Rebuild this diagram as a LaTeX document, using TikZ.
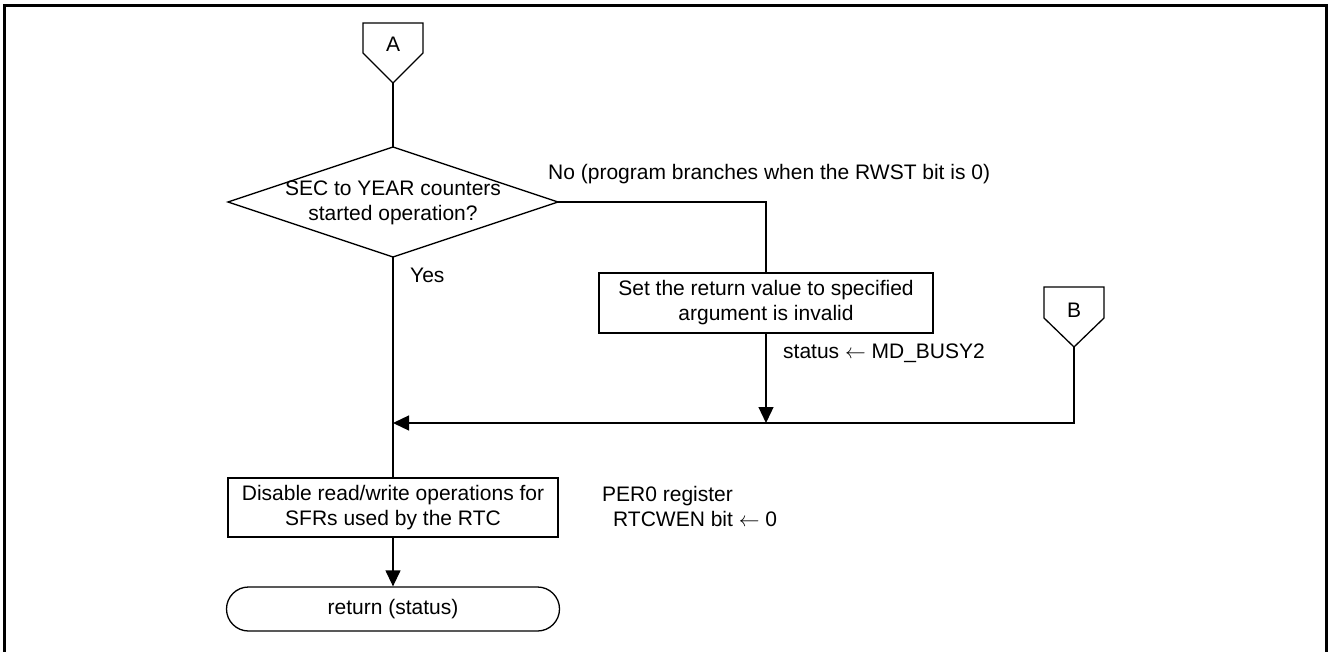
\documentclass[tikz,border=0pt]{standalone}
\usepackage{fontspec}
\setmainfont{Liberation Sans}
\usetikzlibrary{arrows.meta,shapes.misc}
\begin{document}
\begin{tikzpicture}[x=1pt,y=-1pt,
  every node/.style={font=\fontsize{21}{25}\selectfont},
  ln/.style={line width=1.3pt},
  arr/.style={ln,-{Triangle[length=16pt,width=15pt]}},
  procbox/.style={draw,ln,rectangle,inner sep=0pt,align=center},
  termbox/.style={draw,ln,rounded rectangle,inner sep=0pt,align=center},
  lbl/.style={inner sep=0pt,anchor=base west,align=left}]
\useasboundingbox (0,0) rectangle (1330,652);
\draw[line width=3pt] (4.5,660) -- (4.5,5.5) -- (1326.5,5.5) -- (1326.5,660);
% connector A
\draw[ln] (363,23) -- (423,23) -- (423,53) -- (393,83) -- (363,53) -- cycle;
\node (Alab) at (393,44.5) {A};
\coordinate (Atip) at (393,83);
% decision
\coordinate (dT) at (393,147);
\coordinate (dL) at (228,202);
\coordinate (dR) at (558,202);
\coordinate (dB) at (393,257);
\draw[ln] (dT) -- (dR) -- (dB) -- (dL) -- cycle;
\node[align=center,inner sep=0pt] (dec) at (393,203) {SEC to YEAR counters\\started operation?};
% process boxes
\node[procbox,minimum width=334pt,minimum height=60pt] (box1) at (766,303) {Set the return value to specified\\argument is invalid};
\node[procbox,minimum width=330pt,minimum height=59pt] (box2) at (393,507.5) {Disable read/write operations for\\SFRs used by the RTC};
\node[termbox,minimum width=333pt,minimum height=44pt] (term) at (393,609) {return (status)};
% connector B
\draw[ln] (1044,287) -- (1104,287) -- (1104,318) -- (1074,347) -- (1044,318) -- cycle;
\node (Blab) at (1074,310) {B};
\coordinate (Btip) at (1074,347);
\coordinate (join1) at (766,423);
\coordinate (join2) at (393,423);
% connectors
\draw[ln] (Atip) -- (dT);
\draw[ln] (dR) -| (box1.north);
\draw[arr] (box1.south) -- (join1);
\draw[arr] (Btip) |- (join2);
\draw[ln] (dB) -- (box2.north);
\draw[arr] (box2.south) -- (term.north);
% labels
\node[lbl] (no) at (548,180) {No (program branches when the RWST bit is 0)};
\node[lbl] (yes) at (410,283) {Yes};
\node[lbl] (st) at (783,358) {status \(\leftarrow\) MD\_BUSY2};
\node[lbl] (per1) at (602,501) {PER0 register};
\node[lbl] (per2) at (613,526) {RTCWEN bit \(\leftarrow\) 0};
\end{tikzpicture}
\end{document}
